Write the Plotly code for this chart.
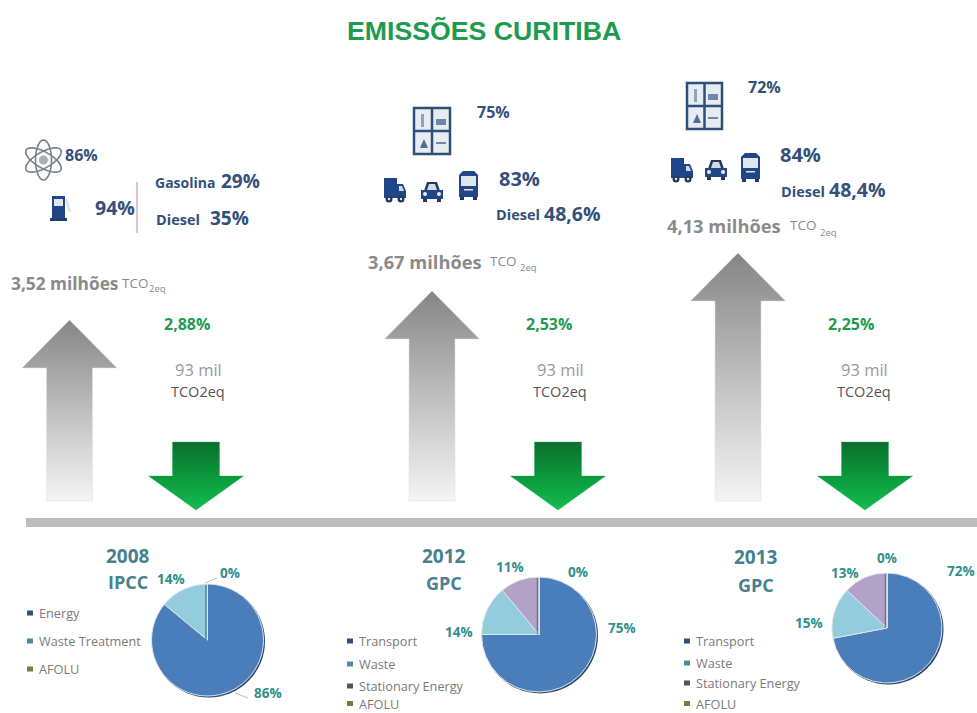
import math
import plotly.graph_objects as go

W, H = 977, 713
TITLE = "EMISSÕES CURITIBA"
BLUE, LBLUE, PURPLE, OLIVE = "#4a7ebb", "#93cddd", "#b3a2c7", "#8a9a5b"
TEAL = "#2f8f8a"
NAVY = "#33507a"
GRAY = "#8a8a8a"
FONT = "Open Sans"

# pie data
labels_2008 = ["Energy", "Waste Treatment", "AFOLU"]
values_2008 = [86, 14, 0]
labels_2012 = ["Transport", "Waste", "Stationary Energy", "AFOLU"]
values_2012 = [75, 14, 11, 0]
labels_2013 = ["Transport", "Waste", "Stationary Energy", "AFOLU"]
values_2013 = [72, 15, 13, 0]

fig = go.Figure()


def pie(cx, cy, r, labels, values, colors):
    # soft bevel: dark disc offset underneath
    fig.add_shape(type="circle", x0=cx - r + 1, y0=cy - r + 1, x1=cx + r + 1.5, y1=cy + r + 1.5,
                  fillcolor="#2b4a70", line=dict(width=0), layer="below")
    fig.add_trace(go.Pie(
        labels=labels, values=values, sort=False, direction="clockwise", rotation=0,
        textinfo="none", showlegend=False, hoverinfo="label+percent",
        marker=dict(colors=colors, line=dict(color="#dfe6ee", width=1)),
        domain=dict(x=[(cx - r) / W, (cx + r) / W], y=[1 - (cy + r) / H, 1 - (cy - r) / H]),
    ))
    fig.add_shape(type="line", x0=cx - 1.5, y0=cy, x1=cx - 1.5, y1=cy - r + 1,
                  line=dict(color="rgba(50,75,90,0.55)", width=1.5), layer="above")


def text(x, y, s, size, color, bold=False, anchor="left", font=FONT):
    fig.add_annotation(x=x, y=y, xref="x", yref="y", text=f"<b>{s}</b>" if bold else s,
                       showarrow=False, xanchor=anchor, yanchor="middle", align=anchor,
                       xshift=-1 if anchor == "left" else 0,
                       font=dict(size=size, color=color, family=font))


def rect(x0, y0, x1, y1, color, line=None, lw=1):
    fig.add_shape(type="rect", x0=x0, y0=y0, x1=x1, y1=y1, fillcolor=color,
                  line=dict(color=line or color, width=lw if line else 0), layer="above")


def circ(cx, cy, rx, ry, color):
    fig.add_shape(type="circle", x0=cx - rx, y0=cy - ry, x1=cx + rx, y1=cy + ry,
                  fillcolor=color, line=dict(width=0), layer="above")


def poly(pts, color):
    d = "M " + " L ".join(f"{x} {y}" for x, y in pts) + " Z"
    fig.add_shape(type="path", path=d, fillcolor=color, line=dict(width=0), layer="above")


def arrow(x, y, grad, edge):
    fig.add_trace(go.Scatter(x=x, y=y, mode="lines", line=dict(width=1, color=edge), fill="toself",
                             fillgradient=dict(type="vertical", colorscale=grad),
                             hoverinfo="skip", showlegend=False))


GRAY_GRAD = [[0, "#f4f4f4"], [0.35, "#cfcfcf"], [0.7, "#a8a8a8"], [1, "#858585"]]
GREEN_GRAD = [[0, "#14bb50"], [0.4, "#0ca040"], [1, "#0a6f2c"]]


def up(cx, tip, base=501):
    arrow([cx, cx + 47.5, cx + 23, cx + 23, cx - 23, cx - 23, cx - 47.5, cx],
          [tip, tip + 48, tip + 48, base, base, tip + 48, tip + 48, tip], GRAY_GRAD, "rgba(225,225,225,0.5)")


def down(cx, top=442, tip=510):
    arrow([cx - 23.5, cx + 23.5, cx + 23.5, cx + 47.5, cx, cx - 47.5, cx - 23.5, cx - 23.5],
          [top, top, top + 34, top + 34, tip, top + 34, top + 34, top], GREEN_GRAD, "rgba(20,170,80,0.35)")


up(69.5, 320); up(432, 291); up(738, 253)
down(196); down(558); down(865)

pie(207.5, 640, 56, labels_2008, values_2008, [BLUE, LBLUE, OLIVE])
pie(539, 634.5, 57.5, labels_2012, values_2012, [BLUE, LBLUE, PURPLE, OLIVE])
pie(887, 628, 55, labels_2013, values_2013, [BLUE, LBLUE, PURPLE, OLIVE])

# title and bar
text(484, 31, TITLE, 26.7, "#1f9a4f", True, "center", "Liberation Sans")
fig.add_shape(type="rect", x0=26, y0=518, x1=977, y1=527, fillcolor="#bdbdbd", line=dict(width=0), layer="below")

# year headers
for x, y1, y2, a, b in [(128, 556, 582, "2008", "IPCC"), (444, 556, 583, "2012", "GPC"), (756, 557, 585, "2013", "GPC")]:
    text(x, y1, a, 19, "#47808e", True, "center")
    text(x, y2, b, 18, "#47808e", True, "center")

# pie percent labels
for x, y, s in [(171, 579, "14%"), (230, 573, "0%"), (268, 693, "86%"),
                (510, 567, "11%"), (578, 572, "0%"), (622, 628, "75%"),
                (459, 632, "14%"), (809, 623, "15%"), (845, 573, "13%"),
                (887, 558, "0%"), (961, 571, "72%")]:
    text(x, y, s, 13.5, TEAL, True, "center")

# pie leader lines
for x0, y0, x1, y1 in [(205, 583, 217, 578), (235, 693, 248, 698)]:
    fig.add_shape(type="line", x0=x0, y0=y0, x1=x1, y1=y1, line=dict(color="#b8c4c4", width=1), layer="above")

# legends
for x, y, s, c in [(30, 613, "Energy", "#2f4f78"), (30, 641, "Waste Treatment", "#4f8a96"), (30, 669, "AFOLU", "#6f7f3f"),
                   (350, 641, "Transport", "#2f4f78"), (350, 664, "Waste", "#4f8a96"), (350, 686, "Stationary Energy", "#555555"), (350, 703.5, "AFOLU", "#6f7f3f"),
                   (687, 641, "Transport", "#2f4f78"), (687, 663, "Waste", "#4f8a96"), (687, 683, "Stationary Energy", "#555555"), (687, 703.5, "AFOLU", "#6f7f3f")]:
    rect(x - 3, y - 2.5, x + 3, y + 2.5, c)
    text(x + 8, y, s, 12.7, "#7a7a7a")

# summary labels
for x, y, s, size, tx, ty, sx, sy in [
    (10, 283, "3,52 milhões", 17.3, 121, 283, 148, 288),
    (367, 261, "3,67 milhões", 18.3, 489, 261, 519, 267),
    (666, 225, "4,13 milhões", 18.3, 789, 225, 819, 232),
]:
    text(x, y, s, size, GRAY, True)
    text(tx, ty, "TCO", 13.5, GRAY)
    text(sx, sy, "2eq", 9.5, GRAY)

for x, s in [(187, "2,88%"), (549, "2,53%"), (851, "2,25%")]:
    text(x, 324, s, 16, "#1f9a4f", True, "center")
for x in [198, 560, 864]:
    text(x, 369, "93 mil", 16.5, "#999999", False, "center")
    text(x, 391, "TCO2eq", 14.5, "#555555", False, "center")

# navy callouts
text(64, 155, "86%", 16, NAVY, True)
text(94, 207, "94%", 19.5, NAVY, True)
text(154, 182, "Gasolina", 14, NAVY, True)
text(220, 181, "29%", 19, NAVY, True)
text(155, 219, "Diesel", 14.5, NAVY, True)
text(209, 218, "35%", 19, NAVY, True)
fig.add_shape(type="line", x0=137, y0=182, x1=137, y1=233, line=dict(color="#c98a8a", width=1), layer="above")
text(476, 112, "75%", 16, NAVY, True)
text(498, 178, "83%", 20, NAVY, True)
text(495, 214, "Diesel", 14.5, NAVY, True)
text(543, 213, "48,6%", 19.5, NAVY, True)
text(747, 87, "72%", 16, NAVY, True)
text(779, 154, "84%", 20, NAVY, True)
text(780, 191, "Diesel", 14.5, NAVY, True)
text(828, 189, "48,4%", 19.5, NAVY, True)

# icons
ICON = "#1f4788"
DARK = "#24385a"


def window(x, y, w, h):
    rect(x, y, x + w, y + h, "#e6ecf2", "#2f4f78", 2.5)
    fig.add_shape(type="line", x0=x + w / 2, y0=y, x1=x + w / 2, y1=y + h, line=dict(color="#2f4f78", width=2.5), layer="above")
    fig.add_shape(type="line", x0=x, y0=y + h / 2, x1=x + w, y1=y + h / 2, line=dict(color="#2f4f78", width=2.5), layer="above")
    rect(x + 7, y + 6, x + 10, y + 19, "#8fa3bd")
    rect(x + w - 14, y + 11, x + w - 4, y + 17, "#6f88aa")
    poly([(x + 6, y + h - 6), (x + 10, y + h - 15), (x + 14, y + h - 6)], "#4f6d96")
    rect(x + w - 14, y + h - 12, x + w - 4, y + h - 10, "#6f88aa")


def truck(x, y):
    rect(x, y, x + 13, y + 20, ICON)
    poly([(x + 13, y + 6), (x + 19, y + 6), (x + 22, y + 13), (x + 22, y + 20), (x + 13, y + 20)], ICON)
    poly([(x + 15, y + 8), (x + 18, y + 8), (x + 20, y + 13), (x + 15, y + 13)], "#cfd9e6")
    circ(x + 5, y + 21, 3.5, 3.5, DARK)
    circ(x + 17, y + 21, 3.5, 3.5, DARK)
    circ(x + 5, y + 21, 1.2, 1.2, "#dfe6ee")
    circ(x + 17, y + 21, 1.2, 1.2, "#dfe6ee")


def car(x, y):
    poly([(x + 3, y + 10), (x + 6, y + 1), (x + 16, y + 1), (x + 19, y + 10)], DARK)
    poly([(x + 6, y + 9), (x + 8, y + 3), (x + 14, y + 3), (x + 16, y + 9)], "#cfd9e6")
    rect(x, y + 9, x + 22, y + 18, ICON)
    circ(x + 4, y + 13, 2, 2, "#e6ecf2")
    circ(x + 18, y + 13, 2, 2, "#e6ecf2")
    rect(x + 2, y + 18, x + 6, y + 21, DARK)
    rect(x + 16, y + 18, x + 20, y + 21, DARK)


def bus(x, y):
    poly([(x, y + 4), (x + 4, y), (x + 15, y), (x + 19, y + 4), (x + 19, y + 26), (x, y + 26)], ICON)
    rect(x + 2, y + 5, x + 17, y + 15, "#dfe6ee")
    rect(x + 5, y + 18, x + 14, y + 19.5, "#dfe6ee")
    rect(x + 1, y + 26, x + 5, y + 29, DARK)
    rect(x + 14, y + 26, x + 18, y + 29, DARK)


window(414, 108, 36, 46)
truck(384, 178); car(421, 181); bus(459, 171)
window(687, 83, 35, 46)
truck(671, 158); car(705, 159); bus(741, 153)

# atom
ACX, ACY = 43.5, 160
for ang in [90, 30, -30]:
    a = math.radians(ang)
    pts = []
    for k in range(37):
        t = math.radians(k * 10)
        ex, ey = 20 * math.cos(t), 8 * math.sin(t)
        pts.append((ACX + ex * math.cos(a) - ey * math.sin(a), ACY + ex * math.sin(a) + ey * math.cos(a)))
    d = "M " + " L ".join(f"{x:.1f} {y:.1f}" for x, y in pts) + " Z"
    fig.add_shape(type="path", path=d, line=dict(color="#79818c", width=1.6), layer="above")
circ(ACX, ACY, 4.5, 4.5, "#a9b0b8")

# fuel pump
rect(52, 196, 65, 219, ICON)
rect(54, 199, 63, 206, "#dfe7f0")
rect(50, 218, 67, 221, "#1f3d6e")
fig.add_shape(type="line", x0=66, y0=199, x1=70, y1=212, line=dict(color="#d9dee5", width=2), layer="above")

fig.update_layout(
    width=W, height=H, margin=dict(l=0, r=0, t=0, b=0), autosize=False,
    paper_bgcolor="white", plot_bgcolor="white", showlegend=False,
    xaxis=dict(range=[0, W], visible=False, fixedrange=True),
    yaxis=dict(range=[H, 0], visible=False, fixedrange=True),
)
fig.write_html("out.html", config=dict(displayModeBar=False),
               post_script="document.body.style.margin='0';document.body.style.overflow='hidden';")
